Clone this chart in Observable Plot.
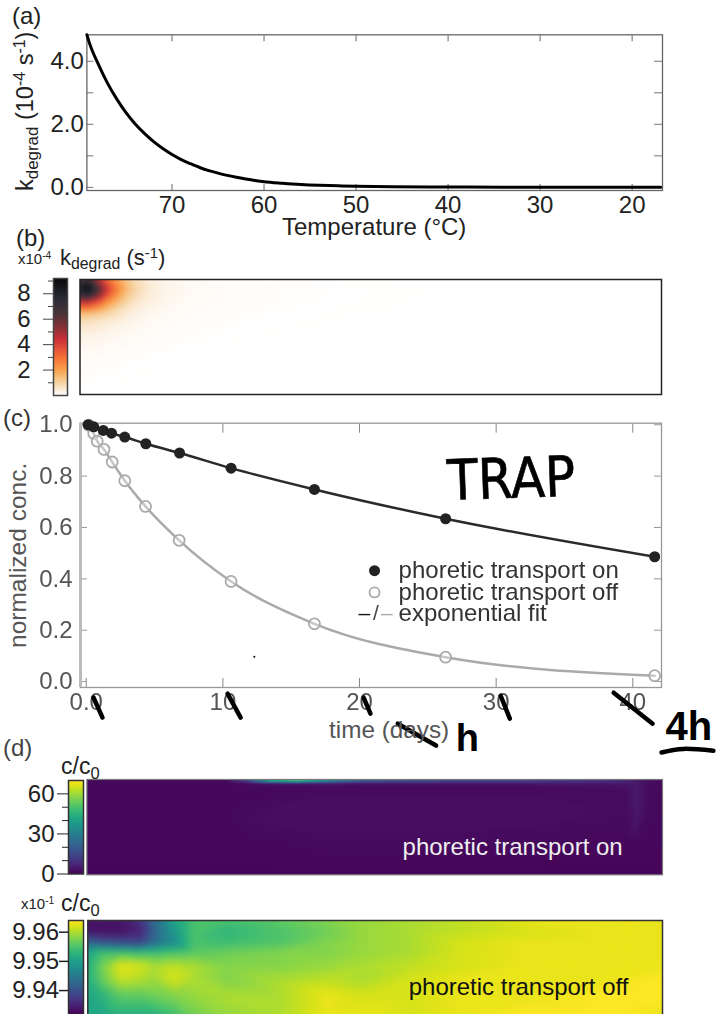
<!DOCTYPE html>
<html><head><meta charset="utf-8">
<script src="https://cdn.jsdelivr.net/npm/d3@7"></script>
<script src="https://cdn.jsdelivr.net/npm/@observablehq/plot@0.6"></script>
<style>
html,body{margin:0;padding:0;background:#fff;overflow:hidden}
#page{position:relative;width:717px;height:1014px;overflow:hidden;font-family:"Liberation Sans",Arial,sans-serif;color:#222}
#page svg{position:absolute;left:0;top:0}
.t{position:absolute;white-space:nowrap;line-height:1}
.t sub{font-size:.72em;vertical-align:-.28em;line-height:0}
.t sup{font-size:.68em;vertical-align:.5em;line-height:0}
.r{transform-origin:0 0;transform:rotate(-90deg)}
.soft{filter:blur(.45px)}
</style></head><body><div id="page"></div>
<script>
// ---- (a) degradation rate vs temperature
const tempC = [79.25,79,78,77,76,75,74,73,72,71,70,69,68,67,66,65,64,63,62,61,60,58,56,54,52,50,46,42,38,34,30,25,20,16.9];
const kDegrad = [4.84,4.6,3.9,3.3,2.8,2.37,2.01,1.71,1.45,1.23,1.04,.88,.75,.63,.53,.45,.38,.32,.265,.22,.18,.13,.09,.065,.05,.035,.02,.012,.008,.006,.005,.004,.003,.003];
const tempTicks = [70,60,50,40,30,20];
const kTicks = [0,1,2,3,4];
const kLabels = [0,2,4];

// ---- (b) heat map of k, offsets in the panel
const bX = [0,8,18,26,36,46,56,68,85,110,160,260,400,582];
const bY = [0,5,10,16,22,28,34,42,55,70,85,115];
const bRows = [
 [6.0,6.5,4.5,3.2,2.0,1.2,.7,.4,.2,.1,.04,.01,0,0],
 [7.6,8.5,5.8,4.0,2.5,1.5,.85,.5,.25,.12,.05,.01,0,0],
 [8.0,9.1,6.5,4.5,2.8,1.6,.9,.5,.28,.14,.05,.015,0,0],
 [7.0,7.5,5.6,3.7,2.3,1.3,.8,.45,.25,.13,.05,.015,0,0],
 [4.6,4.6,3.8,2.6,1.7,1.0,.6,.38,.22,.12,.05,.012,0,0],
 [3.0,3.0,2.4,1.7,1.1,.7,.45,.3,.18,.1,.04,.01,0,0],
 [1.4,1.4,1.2,.95,.7,.48,.33,.22,.14,.08,.03,.008,0,0],
 [.75,.7,.6,.5,.4,.3,.22,.16,.1,.06,.02,.005,0,0],
 [.35,.32,.28,.24,.2,.16,.13,.1,.06,.035,.01,0,0,0],
 [.15,.14,.12,.1,.08,.07,.05,.04,.025,.01,0,0,0,0],
 [.06,.05,.04,.03,.03,.02,.01,.01,0,0,0,0,0,0],
 [0,0,0,0,0,0,0,0,0,0,0,0,0,0]];
const heatStops = [0,.3,1,2,2.9,4.4,5.4,6.4,7.5,8.6,9.2];
const heatColors = ["#ffffff","#fdf3e6","#f6d3a3","#f9a24d","#f87538","#cc3038","#843038","#4a3338","#2c2d38","#15151b","#08080a"];

// ---- (c) normalized concentration vs time
const onDays = [0.14,.55,1.25,1.85,2.82,4.36,6.83,10.6,16.7,26.3,41.6];
const onConc = [1.0,.992,.978,.967,.952,.926,.89,.831,.748,.634,.486];
const offDays = [0.2,.55,.8,1.3,1.9,2.82,4.34,6.8,10.6,16.7,26.3,41.6];
const offConc = [.998,.966,.936,.904,.855,.782,.682,.55,.39,.225,.095,.023];
const legendNames = ["phoretic transport on","phoretic transport off","exponential fit"];
const legendDay = 21.1, legendText = 22.86, legendConc = [.432,.347,.265];
const strikes = [
 [[.53,-.062],[1.19,-.14]],
 [[10.34,-.047],[11.3,-.14]],
 [[20.3,-.062],[20.8,-.125]],
 [[30.33,-.055],[31,-.144]],
 [[38.6,-.043],[41.45,-.164]],
 [[22.8,-.164],[25.6,-.249]],
 [[42.1,-.276],[43.7,-.262],[45.9,-.269]]];

// ---- (d) top: c/c0, transport on
const dX = [0,140,160,185,210,240,280,350,450,520,540,550,560,576];
const dY = [0,1.5,3,4.5,7,12,25,40,60,95];
const dRows = [
 [1.5,1.5,14,44,50,36,22,17,14,11,8,6,4,2],
 [1.5,1.5,12,38,44,30,18,14,12,9,7,5,3.5,2],
 [1.5,1.5,6,20,24,16,10,9,8,7,6,4.5,3,1.5],
 [1.5,1.5,2,4,5,4.5,4,4,4,4,4,4.5,2.5,1.5],
 [1.5,1.5,1.5,1.7,2,2,2,2,2.2,2.6,3.2,5,2.2,1.5],
 [1.5,1.5,1.5,1.5,1.8,2,2,2,2,2,2.2,5,2,1.5],
 [1.5,1.5,1.7,2,2.4,2.4,2.6,2.6,2.6,2,2,5,2,1.5],
 [1.5,1.5,2,2.4,2.6,2.6,2.6,2.6,2.4,2,2,4,1.8,1.5],
 [1.5,1.5,1.5,1.5,1.8,2,2,2,1.8,1.5,1.5,1.7,1.5,1.5],
 [1,1,1,1,1,1,1,1,1,1,1,1,1,1]];

// ---- (d) bottom: c/c0, transport off
const eX = [0,16,33,53,66,86,106,140,190,240,273,323,373,440,513,575];
const eY = [0,10,22,32,45,60,75,96];
const eRows = [
 [9.934,9.934,9.934,9.937,9.943,9.951,9.955,9.955,9.956,9.958,9.959,9.960,9.961,9.963,9.963,9.963],
 [9.933,9.933,9.933,9.935,9.942,9.949,9.955,9.953,9.955,9.957,9.959,9.960,9.961,9.962,9.963,9.963],
 [9.942,9.940,9.939,9.938,9.943,9.947,9.955,9.954,9.955,9.958,9.959,9.960,9.962,9.963,9.963,9.963],
 [9.951,9.955,9.955,9.954,9.954,9.955,9.956,9.957,9.958,9.958,9.959,9.960,9.962,9.963,9.963,9.963],
 [9.952,9.958,9.963,9.962,9.960,9.961,9.960,9.958,9.958,9.959,9.960,9.961,9.962,9.963,9.963,9.963],
 [9.952,9.957,9.961,9.960,9.959,9.962,9.960,9.958,9.960,9.961,9.960,9.962,9.963,9.963,9.963,9.964],
 [9.951,9.953,9.956,9.956,9.957,9.958,9.959,9.960,9.960,9.963,9.962,9.962,9.963,9.963,9.964,9.964],
 [9.951,9.951,9.952,9.952,9.952,9.954,9.957,9.959,9.960,9.963,9.963,9.962,9.963,9.964,9.964,9.963]];

const page = document.getElementById("page");
const H = 1014;
const FF = '"Liberation Sans",Arial,sans-serif';
function box(L,R,T,B,extra,fontSize=24){
  return Object.assign({width:717,height:H,marginLeft:L,marginRight:717-R,marginTop:T,marginBottom:H-B,
    style:{background:"transparent",fontFamily:FF,fontSize:fontSize+"px",overflow:"visible"}},extra);
}
function add(opts,soft){const s=Plot.plot(opts);if(soft)s.classList.add("soft");page.appendChild(s);return s;}
function label(html,left,top,size,color,rot){
  const d=document.createElement("div");d.className="t"+(rot?" r":"");d.innerHTML=html;
  d.style.cssText+=`left:${left}px;top:${top}px;font-size:${size}px;color:${color||"#222"}`;
  page.appendChild(d);
}
const grid=(xs,ys,rows)=>rows.flatMap((r,j)=>r.map((v,i)=>({x:xs[i],y:ys[j],v})));

// (a)
add(box(86.4,662,34.3,190,{
  x:{domain:[79.25,16.7],axis:null},y:{domain:[-.1,4.84],axis:null},
  marks:[
    Plot.axisX({anchor:"bottom",ticks:tempTicks,tickSize:-6,stroke:"#666",fill:"none",label:null}),
    Plot.axisX({anchor:"top",ticks:tempTicks,tickSize:-6,stroke:"#666",fill:"none",label:null}),
    Plot.axisY({anchor:"left",ticks:kTicks,tickSize:-7,stroke:"#777",fill:"none",label:null}),
    Plot.axisY({anchor:"right",ticks:kTicks,tickSize:-9,stroke:"#777",fill:"none",label:null}),
    Plot.axisX({anchor:"bottom",ticks:tempTicks,tickSize:0,tickPadding:5,fill:"#222",label:null}),
    Plot.axisY({anchor:"left",ticks:kLabels,tickSize:0,tickPadding:3,fill:"#222",label:null,tickFormat:".1f"}),
    Plot.frame({stroke:"#666",strokeWidth:1.3}),
    Plot.line(tempC,{x:(d)=>d,y:(d,i)=>kDegrad[i],curve:"monotone-x",stroke:"#000",strokeWidth:3})
  ]}));
label("(a)",12,4,24);
label("Temperature (°C)",282,215,24);
label("k<sub>degrad</sub> (10<sup>-4</sup> s<sup>-1</sup>)",14,191,23.5,"#222",true);

// (b)
const heatScale={type:"linear",domain:heatStops,range:heatColors};
add(box(53,67,278,395,{
  x:{domain:[0,1],axis:null},y:{domain:[0,9.2],axis:null},color:heatScale,
  marks:[
    Plot.raster({x1:0,x2:1,y1:0,y2:9.2,fill:(x,y)=>y,pixelSize:1}),
    Plot.axisY({anchor:"left",ticks:[2,4,6,8],tickSize:10,tickPadding:13,stroke:"#444",fill:"#222",label:null}),
    Plot.axisY({anchor:"left",ticks:[1,3,5,7,9],tickSize:5,stroke:"#444",fill:"none",label:null}),
    Plot.frame({stroke:"#444",strokeWidth:1.5})
  ]}));
add(box(79.5,661,279,394,{
  x:{domain:[0,582],axis:null},y:{domain:[115,0],axis:null},color:heatScale,
  marks:[
    Plot.raster(grid(bX,bY,bRows),{x:"x",y:"y",fill:"v",interpolate:"barycentric",pixelSize:1,blur:2}),
    Plot.frame({stroke:"#222",strokeWidth:1.5})
  ]}));
label("(b)",16,226,24);
label("x10<sup>-4</sup>",18,251,15);
label("k<sub>degrad</sub> (s<sup>-1</sup>)",60,247,22);

// (c)
add(box(80,661,422.7,687,{
  x:{domain:[-.42,42.1],axis:null},y:{domain:[-.023,1.006],axis:null},
  marks:[
    Plot.axisX({anchor:"bottom",ticks:[0,10,20,30,40],tickSize:-9,stroke:"#888",fill:"none",label:null}),
    Plot.axisX({anchor:"top",ticks:[10,20,30,40],tickSize:-9,stroke:"#888",fill:"none",label:null}),
    Plot.axisY({anchor:"left",ticks:[0,.2,.4,.6,.8,1],tickSize:-7,stroke:"#999",fill:"none",label:null}),
    Plot.axisY({anchor:"right",ticks:[0,.2,.4,.6,.8,1],tickSize:-8,stroke:"#999",fill:"none",label:null}),
    Plot.axisX({anchor:"bottom",ticks:[0,10,20,30,40],tickSize:0,tickPadding:5,fill:"#555",label:null,tickFormat:d=>d===0?"0.0":d}),
    Plot.axisY({anchor:"left",ticks:[0,.2,.4,.6,.8,1],tickSize:0,tickPadding:8,fill:"#555",label:null,tickFormat:".1f"}),
    Plot.frame({stroke:"#999",strokeWidth:1.3}),
    Plot.ruleX([-.42],{stroke:"#bbb",strokeWidth:3}),
    Plot.line(offDays,{x:d=>d,y:(d,i)=>offConc[i],curve:"monotone-x",stroke:"#aaa",strokeWidth:2.5}),
    Plot.line(onDays,{x:d=>d,y:(d,i)=>onConc[i],curve:"monotone-x",stroke:"#2a2a2a",strokeWidth:2.5}),
    Plot.dot(offDays,{x:d=>d,y:(d,i)=>offConc[i],r:5.5,stroke:"#aaa",strokeWidth:1.8,fill:"#fff",fillOpacity:.35}),
    Plot.dot(onDays,{x:d=>d,y:(d,i)=>onConc[i],r:5.5,fill:"#222",stroke:"none"}),
    Plot.dot([legendConc[0]],{x:()=>legendDay,y:d=>d,r:5.5,fill:"#222",stroke:"none"}),
    Plot.dot([legendConc[1]],{x:()=>legendDay,y:d=>d,r:5,stroke:"#aaa",strokeWidth:1.8,fill:"none"}),
    Plot.text(legendNames,{x:()=>legendText,y:(d,i)=>legendConc[i],text:d=>d,textAnchor:"start",fill:"#333",fontSize:24}),
    Plot.text(["–","/","–"],{x:(d,i)=>[20.35,21.2,22.0][i],y:()=>legendConc[2],text:d=>d,fill:(d,i)=>["#111","#444","#aaa"][i],fontSize:21})
  ]}),true);
add(box(80,661,422.7,687,{
  x:{domain:[-.42,42.1],axis:null},y:{domain:[-.023,1.006],axis:null},
  marks:[
    ...strikes.map(s=>Plot.line(s,{x:"0",y:"1",curve:"natural",stroke:"#000",strokeWidth:4.5,strokeLinecap:"round"})),
    Plot.dot([[12.3,.097]],{x:"0",y:"1",r:1,fill:"#000"}),
    Plot.text(["TRAP"],{x:()=>31.1,y:()=>.785,fontFamily:"DejaVu Sans Condensed, Liberation Sans",fontSize:56,fill:"#000",stroke:"#000",strokeWidth:.6,rotate:-2}),
    Plot.text(["h"],{x:()=>27.9,y:()=>-.222,fontSize:38,fontWeight:"bold",fill:"#000"}),
    Plot.text(["4h"],{x:()=>44.1,y:()=>-.179,fontSize:40,fontWeight:"bold",fill:"#000"})
  ]}));
label("(c)",3,406,24,"#333");
label("normalized conc.",6,648,24.5,"#555",true);
label("time (days)",329,718,24.3,"#555");

// (d) top
add(box(68,83,780,873.5,{
  x:{domain:[0,1],axis:null},y:{domain:[0,70],axis:null},color:{scheme:"viridis",domain:[0,70]},
  marks:[
    Plot.raster({x1:0,x2:1,y1:0,y2:70,fill:(x,y)=>y,pixelSize:1}),
    Plot.axisY({anchor:"left",ticks:[0,30,60],tickSize:11,tickPadding:3,stroke:"#222",fill:"#222",label:null}),
    Plot.axisY({anchor:"left",ticks:[10,20,40,50],tickSize:6,stroke:"#222",fill:"none",label:null}),
    Plot.frame({stroke:"#333",strokeWidth:1.5})
  ]}));
add(box(86.4,662,779,874.3,{
  x:{domain:[0,576],axis:null},y:{domain:[95,0],axis:null},color:{scheme:"viridis",domain:[0,70]},
  marks:[
    Plot.raster(grid(dX,dY,dRows),{x:"x",y:"y",fill:"v",interpolate:"barycentric",pixelSize:1}),
    Plot.frame({stroke:"#777",strokeWidth:1.2}),
    Plot.text(["phoretic transport on"],{x:()=>426,y:()=>68,fill:"#eee",fontSize:24})
  ]}));
label("(d)",3,736,24,"#444");
label("c/c<sub>0</sub>",61,755,23);

// (d) bottom
add(box(68,83,920,1014,{
  x:{domain:[0,1],axis:null},y:{domain:[9.9318,9.964],axis:null},color:{scheme:"viridis",domain:[9.932,9.964]},
  marks:[
    Plot.raster({x1:0,x2:1,y1:9.9318,y2:9.964,fill:(x,y)=>y,pixelSize:1}),
    Plot.axisY({anchor:"left",ticks:[9.94,9.95,9.96],tickSize:9,tickPadding:.5,stroke:"#222",strokeWidth:1.5,fill:"#222",label:null,tickFormat:".2f"}),
    Plot.frame({stroke:"#333",strokeWidth:1.5})
  ]}));
add(box(87.3,662,920,1016,{
  x:{domain:[0,575],axis:null},y:{domain:[96,0],axis:null},color:{scheme:"viridis",domain:[9.932,9.964]},
  marks:[
    Plot.raster(grid(eX,eY,eRows),{x:"x",y:"y",fill:"v",interpolate:"barycentric",pixelSize:1,blur:3}),
    Plot.frame({stroke:"#333",strokeWidth:1.5}),
    Plot.text(["phoretic transport off"],{x:()=>431,y:()=>67,fill:"#111",fontSize:24})
  ]}));
label("x10<sup>-1</sup>",21,896,15);
label("c/c<sub>0</sub>",61,892,23);
</script></body></html>
